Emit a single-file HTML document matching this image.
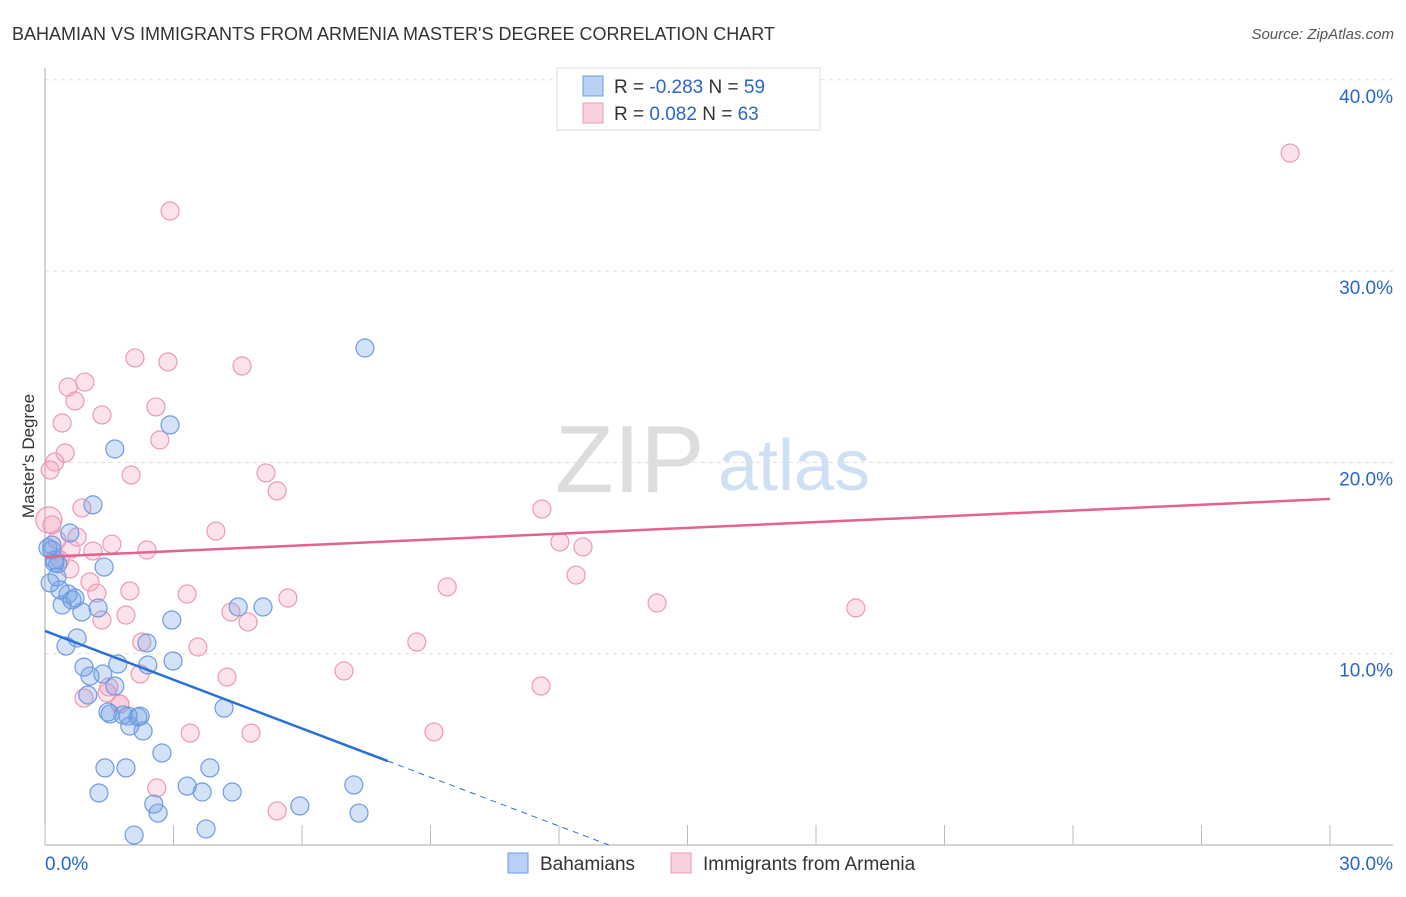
<!DOCTYPE html>
<html><head><meta charset="utf-8"><style>
body{margin:0;background:#fff;font-family:"Liberation Sans",sans-serif}
svg text{font-family:"Liberation Sans",sans-serif}
</style></head><body>
<svg id="chart" width="1406" height="892" xmlns="http://www.w3.org/2000/svg">
<text x="12" y="40" font-size="18" fill="#333">BAHAMIAN VS IMMIGRANTS FROM ARMENIA MASTER'S DEGREE CORRELATION CHART</text>
<text x="1394" y="39" font-size="15" fill="#555" text-anchor="end" font-style="italic">Source: ZipAtlas.com</text>
<text x="555" y="492" font-size="96" fill="#ddd" font-family="Liberation Serif">ZIP</text>
<text x="718" y="490" font-size="72" fill="#cfe0f5">atlas</text>
<text transform="translate(34,456) rotate(-90)" font-size="17" fill="#333" text-anchor="middle">Master's Degree</text>
<g id="grid"></g><g id="axes"></g><g id="pink"></g><g id="blue"></g><g id="trends"></g>
<g>
<rect x="557" y="68" width="263" height="62" fill="#fff" stroke="#ddd"/>
<rect x="583" y="76" width="20" height="20" fill="#b8d1f5" stroke="#6f9be0"/>
<rect x="583" y="103" width="20" height="20" fill="#fbd0de" stroke="#eb9ab5"/>
<text x="614" y="93" font-size="19" fill="#333">R = <tspan fill="#2a66c9">-0.283</tspan>    N = <tspan fill="#2a66c9">59</tspan></text>
<text x="614" y="120" font-size="19" fill="#333">R =  <tspan fill="#2a66c9">0.082</tspan>    N = <tspan fill="#2a66c9">63</tspan></text>
</g>
<g>
<rect x="508" y="853" width="20" height="20" fill="#b8d1f5" stroke="#6f9be0"/>
<text x="540" y="870" font-size="19" fill="#333">Bahamians</text>
<rect x="671" y="853" width="20" height="20" fill="#fbd0de" stroke="#eb9ab5"/>
<text x="703" y="870" font-size="19" fill="#333">Immigrants from Armenia</text>
</g>
</svg>
<script>
const blueX=[7.47,2.92,1.63,1.12,0.58,0.16,0.23,0.12,0.28,1.38,0.40,0.70,0.86,1.24,4.51,5.09,2.96,0.75,0.49,2.38,0.91,1.70,2.40,2.99,1.05,1.35,1.63,1.00,4.18,1.52,1.82,2.17,1.94,1.98,2.29,2.73,1.40,1.89,3.85,3.32,3.67,4.37,1.26,2.54,5.95,7.21,2.64,7.33,3.76,2.08,0.07,0.23,0.35,0.54,2.22,1.47,0.16,0.63,0.30];
const blueY=[25.98,21.96,20.70,17.78,16.31,15.68,14.90,13.70,14.01,14.53,12.55,12.91,12.18,12.39,12.44,12.44,11.76,10.82,10.40,10.56,9.30,9.46,9.41,9.62,8.83,8.94,8.31,7.84,7.16,6.85,6.80,6.69,6.74,6.22,5.96,4.81,4.03,4.03,4.03,3.08,2.77,2.77,2.72,2.14,2.04,3.14,1.67,1.67,0.84,0.52,15.53,14.74,13.33,13.12,6.74,6.95,15.42,12.81,14.70];
const pinkX=[29.07,2.92,2.10,2.87,4.60,0.93,0.54,2.59,0.70,1.33,0.40,2.68,0.47,0.23,0.12,2.01,5.16,5.42,0.86,11.60,0.09,0.16,0.75,3.99,0.28,12.02,12.56,1.56,0.61,1.12,2.38,0.58,12.40,1.05,9.39,1.21,1.98,3.32,5.67,14.29,18.93,4.34,1.89,1.33,4.74,2.26,3.57,8.68,6.98,2.22,4.25,1.49,1.45,0.91,1.75,3.39,4.81,9.08,11.58,2.61,5.42,1.75,0.35];
const pinkY=[36.17,33.14,25.46,25.25,25.04,24.20,23.94,22.90,23.21,22.48,22.06,21.17,20.49,20.02,19.60,19.34,19.45,18.51,17.62,17.56,16.99,16.73,16.10,16.41,15.94,15.84,15.58,15.73,15.47,15.37,15.42,14.43,14.11,13.75,13.49,13.17,13.28,13.12,12.91,12.65,12.39,12.18,12.02,11.76,11.66,10.61,10.35,10.61,9.10,8.94,8.78,8.26,7.95,7.68,7.37,5.85,5.85,5.91,8.31,2.98,1.78,7.37,14.90];
const blueTrend=[11.19,-0.85]; // intercept, slope
const pinkTrend=[15.06,0.101];
const yTicks=[10,20,30,40];
const yTickLabels=["10.0%","20.0%","30.0%","40.0%"];
const xTicks=[0,3,6,9,12,15,18,21,24,27,30];
const NS="http://www.w3.org/2000/svg";
const sx=v=>45+v*1285/30, sy=v=>845-v*19.13;
function mk(t,a,p){const e=document.createElementNS(NS,t);for(const k in a)e.setAttribute(k,a[k]);document.getElementById(p).appendChild(e);return e;}
yTicks.forEach((t,i)=>{
 const l=mk('line',{x1:45,x2:1393,y1:sy(t),y2:sy(t),stroke:'#ddd','stroke-dasharray':'4,4'},'grid');
 
 
 const tx=mk('text',{x:1393,y:sy(t)+23,'font-size':19,fill:'#2a66c9','text-anchor':'end'},'grid');
 tx.textContent=yTickLabels[i];
 
 
});
const ax=mk('line',{x1:45,x2:45,y1:68,y2:845,stroke:'#aaa'},'axes');


const bx=mk('line',{x1:45,x2:1393,y1:845,y2:845,stroke:'#aaa'},'axes');


xTicks.forEach(t=>{
 const l=mk('line',{x1:sx(t),x2:sx(t),y1:825,y2:845,stroke:'#bbb'},'axes');
 
 
});
const x0=mk('text',{x:45,y:870,'font-size':19,fill:'#2a66c9'},'axes');x0.textContent='0.0%';


const x1=mk('text',{x:1393,y:870,'font-size':19,fill:'#2a66c9','text-anchor':'end'},'axes');x1.textContent='30.0%';


pinkX.forEach((v,i)=>{
 const c=mk('circle',{cx:sx(v),cy:sy(pinkY[i]),r:i==20?13:9,fill:'rgba(244,160,190,0.3)',stroke:'#eb9ab5','stroke-width':1.2},'pink');
 
 
});
blueX.forEach((v,i)=>{
 const c=mk('circle',{cx:sx(v),cy:sy(blueY[i]),r:9,fill:'rgba(110,160,230,0.3)',stroke:'#6f9be0','stroke-width':1.2},'blue');
 
 
});
const bf=x=>blueTrend[0]+blueTrend[1]*x, pf=x=>pinkTrend[0]+pinkTrend[1]*x;
const xEnd=-blueTrend[0]/blueTrend[1];
const t1=mk('line',{x1:sx(0),y1:sy(bf(0)),x2:sx(8),y2:sy(bf(8)),stroke:'#2a6fd6','stroke-width':2.5},'trends');


const t2=mk('line',{x1:sx(8),y1:sy(bf(8)),x2:sx(xEnd),y2:sy(0),stroke:'#2a6fd6','stroke-width':1,'stroke-dasharray':'6,5'},'trends');


const t3=mk('line',{x1:sx(0),y1:sy(pf(0)),x2:sx(30),y2:sy(pf(30)),stroke:'#e3628e','stroke-width':2.5},'trends');


</script>
</body></html>
